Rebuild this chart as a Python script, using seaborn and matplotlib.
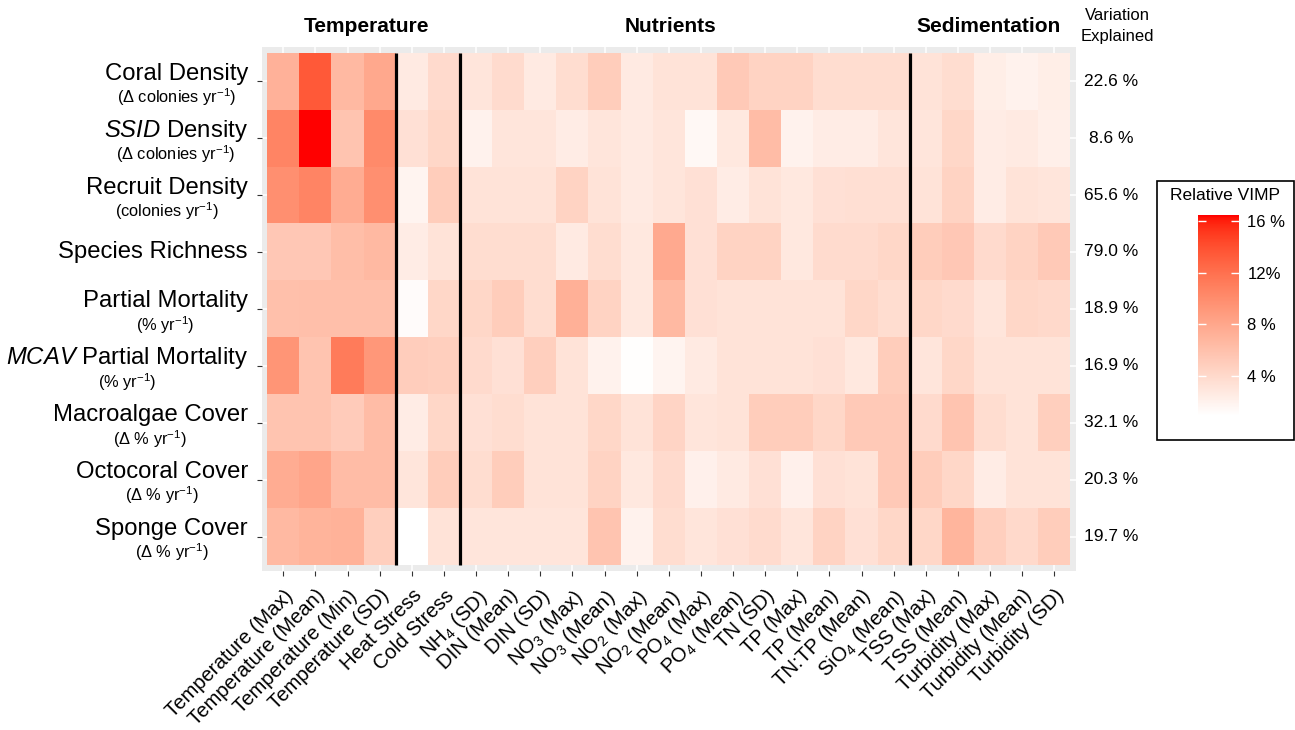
import numpy as np
import pandas as pd
import matplotlib
matplotlib.use("Agg")
import matplotlib.pyplot as plt
import seaborn as sns
from matplotlib.colors import ListedColormap
from matplotlib.patches import Rectangle
from matplotlib.transforms import blended_transform_factory, offset_copy

# ---------------------------------------------------------------- data
responses = ["Coral Density", r"$\mathit{SSID}$ Density", "Recruit Density",
             "Species Richness", "Partial Mortality",
             r"$\mathit{MCAV}$ Partial Mortality", "Macroalgae Cover",
             "Octocoral Cover", "Sponge Cover"]
response_units = [r"(Δ colonies yr$^{-1}$)", r"(Δ colonies yr$^{-1}$)",
                  r"(colonies yr$^{-1}$)", None, r"(% yr$^{-1}$)",
                  r"(% yr$^{-1}$)", r"(Δ % yr$^{-1}$)", r"(Δ % yr$^{-1}$)",
                  r"(Δ % yr$^{-1}$)"]
predictors = ["Temperature (Max)", "Temperature (Mean)", "Temperature (Min)",
              "Temperature (SD)", "Heat Stress", "Cold Stress",
              r"NH$_4$ (SD)", "DIN (Mean)", "DIN (SD)", r"NO$_3$ (Max)",
              r"NO$_3$ (Mean)", r"NO$_2$ (Max)", r"NO$_2$ (Mean)",
              r"PO$_4$ (Max)", r"PO$_4$ (Mean)", "TN (SD)", "TP (Max)",
              "TP (Mean)", "TN:TP (Mean)", r"SiO$_4$ (Mean)", "TSS (Max)",
              "TSS (Mean)", "Turbidity (Max)", "Turbidity (Mean)",
              "Turbidity (SD)"]
variation_explained = [22.6, 8.6, 65.6, 79.0, 18.9, 16.9, 32.1, 20.3, 19.7]

groups = ["Temperature", "Nutrients", "Sedimentation"]
group_label_x = [3.1, 12.55, 22.45]
group_breaks = [4, 6, 20]

legend_ticks = [4, 8, 12, 16]
legend_tick_labels = ["4 %", "8 %", "12%", "16 %"]

# relative VIMP (%) of each predictor, one list per response
coral_density = [7.2, 13.5, 6.6, 7.9, 2.6, 3.9, 3.0, 3.8, 2.6, 3.7, 5.0, 2.6, 3.2,
                 3.2, 5.3, 4.5, 4.5, 3.7, 3.7, 3.7, 3.2, 3.7, 2.3, 2.0, 2.3]
ssid_density = [10.6, 16.5, 5.7, 10.2, 3.4, 4.2, 2.0, 3.0, 3.0, 2.4, 3.0, 2.6, 3.0,
                1.5, 2.8, 6.3, 2.0, 2.4, 2.4, 3.0, 3.0, 4.2, 2.4, 2.6, 2.2]
recruit_density = [9.8, 10.6, 7.6, 9.8, 1.8, 5.0, 3.2, 3.2, 3.2, 4.5, 3.2, 2.6, 3.0,
                   3.4, 2.4, 3.2, 2.8, 3.4, 3.5, 3.5, 3.2, 4.5, 2.4, 3.2, 3.0]
species_richness = [5.4, 5.4, 6.2, 6.6, 2.4, 3.2, 3.7, 3.7, 3.7, 2.6, 3.7, 2.8, 7.8,
                    3.4, 4.5, 4.5, 2.8, 3.8, 3.8, 4.2, 5.0, 5.4, 3.9, 4.5, 5.3]
partial_mortality = [6.0, 6.1, 6.1, 6.1, 1.2, 4.2, 4.2, 5.0, 3.7, 7.3, 4.5, 2.8, 6.6,
                     3.4, 3.2, 3.2, 3.2, 3.2, 4.2, 3.7, 4.2, 3.9, 3.0, 4.2, 4.0]
mcav_partial_mortality = [9.4, 5.7, 11.3, 9.2, 4.9, 4.8, 3.9, 3.4, 4.8, 3.2, 2.0, 1.0,
                          1.8, 2.6, 3.2, 3.2, 3.2, 3.4, 2.8, 5.0, 3.0, 4.2, 3.2, 3.2, 3.2]
macroalgae_cover = [5.7, 5.7, 5.1, 6.3, 2.4, 4.2, 3.4, 3.7, 3.2, 3.2, 4.2, 3.2, 4.4,
                    3.0, 3.2, 5.0, 5.0, 4.2, 5.3, 5.3, 3.9, 5.7, 3.7, 3.2, 4.8]
octocoral_cover = [7.6, 8.1, 6.3, 6.3, 3.0, 5.0, 3.7, 5.0, 3.2, 3.2, 4.5, 2.8, 3.9,
                   2.1, 2.6, 3.4, 2.1, 3.4, 3.2, 5.3, 5.0, 4.2, 2.4, 3.2, 3.2]
sponge_cover = [6.6, 7.0, 7.1, 4.8, 0.86, 3.2, 3.0, 3.0, 3.0, 3.0, 5.7, 2.0, 3.7,
                3.0, 3.4, 3.8, 3.0, 4.5, 3.4, 4.2, 4.2, 6.9, 4.8, 4.0, 5.0]

vimp = pd.DataFrame(
    [coral_density, ssid_density, recruit_density, species_richness,
     partial_mortality, mcav_partial_mortality, macroalgae_cover,
     octocoral_cover, sponge_cover],
    index=responses, columns=predictors)

# ---------------------------------------------------------------- style
plt.rcParams["font.family"] = ["Liberation Sans", "DejaVu Sans"]
plt.rcParams["mathtext.fontset"] = "custom"
plt.rcParams["mathtext.rm"] = "Liberation Sans"
plt.rcParams["mathtext.it"] = "Liberation Sans:italic"
plt.rcParams["mathtext.bf"] = "Liberation Sans:bold"


def lab_to_srgb(L, a, b):
    """CIE Lab (D65) -> sRGB in [0, 1]."""
    fy = (L + 16.0) / 116.0
    fx = fy + a / 500.0
    fz = fy - b / 200.0

    def finv(t):
        return np.where(t ** 3 > 0.008856, t ** 3, (t - 16.0 / 116.0) / 7.787)

    xyz = np.vstack([0.95047 * finv(fx), finv(fy), 1.08883 * finv(fz)])
    m = np.array([[3.2406, -1.5372, -0.4986],
                  [-0.9689, 1.8758, 0.0415],
                  [0.0557, -0.2040, 1.0570]])
    lin = np.clip(m @ xyz, 0, 1)
    srgb = np.where(lin <= 0.0031308, 12.92 * lin,
                    1.055 * lin ** (1 / 2.4) - 0.055)
    return np.clip(srgb.T, 0, 1)


# white -> red gradient interpolated in Lab space
t = np.linspace(0, 1, 256)
white_lab = np.array([100.0, 0.0, 0.0])
red_lab = np.array([53.2408, 80.0925, 67.2032])
lab = white_lab[None, :] + t[:, None] * (red_lab - white_lab)[None, :]
cmap = ListedColormap(lab_to_srgb(lab[:, 0], lab[:, 1], lab[:, 2]))

W, H = 1295, 730
fig = plt.figure(figsize=(W / 100, H / 100), dpi=100, facecolor="white")

# panel: tiles plus a small grey margin
ax = fig.add_axes([262.1 / W, 1 - 570.7 / H, (1075.5 - 262.1) / W,
                   (570.7 - 47.0) / H])
cax = fig.add_axes([1198 / W, 1 - 416 / H, 41 / W, 201 / H])

vmin, vmax = vimp.values.min(), vimp.values.max()
sns.heatmap(vimp, cmap=cmap, vmin=vmin, vmax=vmax, ax=ax, cbar_ax=cax,
            xticklabels=predictors, yticklabels=False, linewidths=0)

n_rows, n_cols = vimp.shape
ax.set_facecolor("#EBEBEB")
ax.set_xlim(-0.16, n_cols + 0.16)
ax.set_ylim(n_rows + 0.1, -0.1)
ax.set_axisbelow(True)
ax.set_yticks(np.arange(n_rows) + 0.5)
ax.set_yticklabels([""] * n_rows)
ax.grid(True, color="white", lw=1.1)
for sp in ax.spines.values():
    sp.set_visible(False)
ax.set_xlabel("")
ax.set_ylabel("")
ax.tick_params(axis="both", length=3.6, width=0.8, color="#333333")
ax.tick_params(axis="x", pad=7.5)
ax.set_xticklabels(predictors, rotation=45, ha="right", va="top",
                   rotation_mode="anchor", fontsize=14.6, color="black")

# separators between predictor groups
ax.vlines(group_breaks, 0, n_rows, colors="black", lw=2.3, zorder=5)

# group headings
gtrans = blended_transform_factory(ax.transData, fig.transFigure)
for gx, gname in zip(group_label_x, groups):
    ax.text(gx, 1 - 27 / H, gname, transform=gtrans, ha="center", va="center",
            fontsize=15, fontweight="bold")

# response labels with units below
ytrans = blended_transform_factory(fig.transFigure, ax.transData)
renderer = fig.canvas.get_renderer()
x_right = 248 / W
for i, (name, unit) in enumerate(zip(responses, response_units)):
    yc = i + 0.5
    if unit is None:
        ax.text(x_right, yc, name, transform=ytrans, ha="right", va="center",
                fontsize=17.2)
        continue
    main = ax.text(x_right, yc, name,
                   transform=offset_copy(ytrans, fig=fig, y=7.5, units="dots"),
                   ha="right", va="center", fontsize=17.2)
    bb = main.get_window_extent(renderer)
    xc = 0.5 * (bb.x0 + bb.x1) / fig.bbox.width
    ax.text(xc, yc, unit,
            transform=offset_copy(ytrans, fig=fig, y=-16, units="dots"),
            ha="center", va="center", fontsize=11.8)

# variation explained column
for i, v in enumerate(variation_explained):
    ax.text(1111 / W, i + 0.5, f"{v:.1f} %", transform=ytrans,
            ha="center", va="center", fontsize=12.5)
fig.text(1117 / W, 1 - 15 / H, "Variation", ha="center", va="center",
         fontsize=12)
fig.text(1117 / W, 1 - 37 / H, "Explained", ha="center", va="center",
         fontsize=12)

# colour bar legend
cb = ax.collections[0].colorbar
cb.outline.set_visible(False)
cb.set_ticks(legend_ticks, labels=legend_tick_labels)
cax.tick_params(length=0, pad=6, labelsize=12)
cax.hlines(legend_ticks, 0, 0.2, transform=cax.get_yaxis_transform(),
           colors="white", lw=1.0)
cax.hlines(legend_ticks, 0.8, 1.0, transform=cax.get_yaxis_transform(),
           colors="white", lw=1.0)
fig.add_artist(Rectangle((1157 / W, 1 - 440 / H), 137 / W, 259 / H,
                         transform=fig.transFigure, fill=False,
                         ec="black", lw=1.2))
fig.text(1225 / W, 1 - 196 / H, "Relative VIMP", ha="center", va="center",
         fontsize=12.5)

fig.savefig("out.png", dpi=100)
